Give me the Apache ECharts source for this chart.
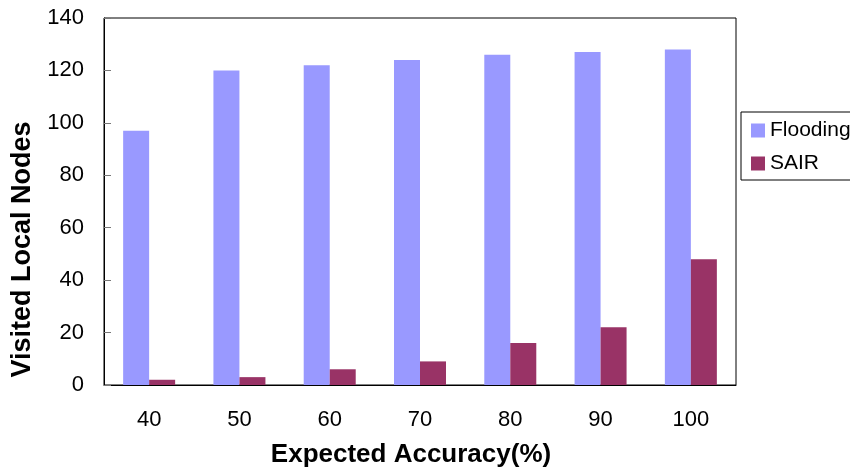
<!DOCTYPE html>
<html>
<head>
<meta charset="utf-8">
<script src="https://cdn.jsdelivr.net/npm/echarts@6/dist/echarts.min.js"></script>
<style>html,body{margin:0;padding:0;background:#fff}#c{width:850px;height:473px}</style>
</head>
<body>
<div id="c"></div>
<script>
var categories = ['40', '50', '60', '70', '80', '90', '100'];
var flooding = [97, 120, 122, 124, 126, 127, 128];
var sair = [2, 3, 6, 9, 16, 22, 48];
var yTicks = [0, 20, 40, 60, 80, 100, 120, 140];

var chart = echarts.init(document.getElementById('c'));
var font = '"Liberation Sans", Arial, sans-serif';
chart.setOption({
  animation: false,
  backgroundColor: '#fff',
  textStyle: { fontFamily: font },
  grid: { left: 104, right: 114, top: 18, bottom: 88, show: true, borderColor: '#000', borderWidth: 1, backgroundColor: 'transparent' },
  legend: {
    orient: 'vertical', left: 741, top: 112,
    borderColor: '#000', borderWidth: 1,
    padding: [8, 20, 6, 10],
    itemWidth: 14, itemHeight: 14, itemGap: 12,
    textStyle: { fontSize: 21, color: '#000', fontFamily: font },
    icon: 'rect',
    data: ['Flooding', 'SAIR']
  },
  xAxis: {
    type: 'category', data: categories,
    name: 'Expected Accuracy(%)', nameLocation: 'middle', nameGap: 57,
    nameTextStyle: { fontSize: 26, fontWeight: 'bold', color: '#000', fontFamily: font, padding: [0, 18, 0, 0] },
    axisLine: { lineStyle: { color: '#000', width: 1 } },
    axisTick: { inside: true, length: 7, lineStyle: { color: '#000' } },
    axisLabel: { fontSize: 22, color: '#000', margin: 24, fontFamily: font }
  },
  yAxis: {
    type: 'value', min: 0, max: 140, interval: 20,
    name: 'Visited Local Nodes', nameLocation: 'middle', nameGap: 65,
    nameTextStyle: { fontSize: 27, fontWeight: 'bold', color: '#000', fontFamily: font, padding: [0, 96, 0, 0] },
    axisLine: { show: true, lineStyle: { color: '#000', width: 1 } },
    axisTick: { show: true, inside: true, length: 7, lineStyle: { color: '#777' } },
    splitLine: { show: false },
    axisLabel: { fontSize: 22, color: '#000', margin: 20, fontFamily: font,
      formatter: function (v) { return yTicks.indexOf(v) >= 0 ? String(v) : ''; } }
  },
  series: [
    { name: 'Flooding', type: 'bar', data: flooding, barWidth: 26, barGap: '0%', itemStyle: { color: '#9999FF' } },
    { name: 'SAIR', type: 'bar', data: sair, barWidth: 26, barGap: '0%', itemStyle: { color: '#993366' } }
  ]
});
</script>
</body>
</html>
